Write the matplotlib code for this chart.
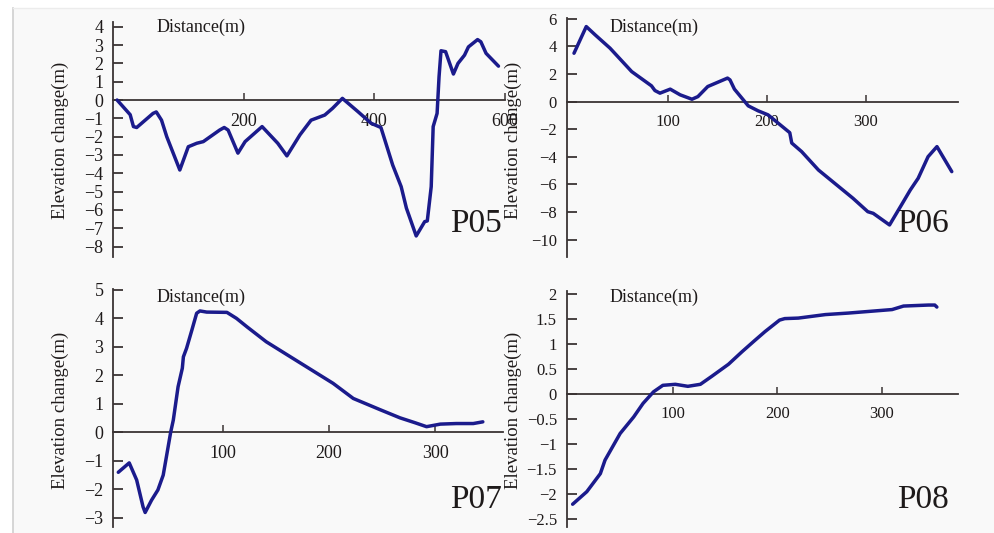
import matplotlib.pyplot as plt
from matplotlib.patches import Rectangle
from matplotlib.lines import Line2D

plt.rcParams['font.family'] = ['Liberation Serif', 'DejaVu Serif']

# profile data (distance m, elevation change m)
p05_x = [6, 26, 31, 36, 61, 66, 74, 82, 102, 115, 128, 138, 163, 170, 176, 191, 202, 228,
         252, 266, 286, 303, 324, 336, 351, 375, 395, 410, 428, 441, 449, 464, 477, 481,
         487, 490, 496, 499, 502, 509, 521, 528, 538, 544, 558, 563, 571, 590]
p05_y = [0, -0.8, -1.45, -1.5, -0.73, -0.65, -1.1, -2.0, -3.82, -2.55, -2.36, -2.27, -1.64,
         -1.5, -1.64, -2.9, -2.27, -1.45, -2.36, -3.05, -1.9, -1.1, -0.82, -0.45, 0.09,
         -0.64, -1.27, -1.5, -3.55, -4.73, -5.9, -7.42, -6.64, -6.6, -4.73, -1.45, -0.73,
         1.27, 2.69, 2.64, 1.42, 2.0, 2.45, 2.9, 3.3, 3.18, 2.55, 1.85]

p06_x = [4.6, 17, 26, 41, 63, 83, 86.5, 91.6, 102, 112, 124, 130, 140, 160, 162.5, 167,
         181, 191, 201, 223, 225, 235, 252, 287, 302, 307.5, 324, 336, 345, 353, 363, 372, 387]
p06_y = [3.5, 5.43, 4.83, 3.87, 2.17, 1.14, 0.8, 0.61, 0.9, 0.49, 0.17, 0.36, 1.09, 1.7,
         1.57, 0.9, -0.31, -0.67, -0.96, -2.25, -3.0, -3.62, -4.95, -7.0, -7.97, -8.09,
         -8.93, -7.49, -6.4, -5.55, -3.99, -3.26, -5.07]

p07_x = [1.7, 12, 19, 25, 27, 33, 39, 44, 47, 51, 53.5, 58, 62, 63, 66, 71, 75.5, 78.6,
         85, 104, 113, 123, 141, 166, 204, 223, 248, 267, 281, 292, 305, 320, 336, 345]
p07_y = [-1.4, -1.07, -1.67, -2.61, -2.81, -2.38, -2.02, -1.5, -0.86, 0, 0.43, 1.6, 2.25,
         2.65, 2.95, 3.59, 4.18, 4.26, 4.22, 4.21, 4.0, 3.7, 3.18, 2.6, 1.72, 1.19, 0.8,
         0.51, 0.34, 0.2, 0.29, 0.31, 0.31, 0.37]

p08_x = [3.4, 17, 30, 34.5, 49, 62, 71, 81, 90, 102, 114, 126, 137, 153, 166, 178, 188,
         202, 207, 220, 246, 268, 310, 321, 345, 351, 353]
p08_y = [-2.2, -1.95, -1.59, -1.32, -0.79, -0.46, -0.19, 0.04, 0.17, 0.19, 0.15, 0.19,
         0.35, 0.59, 0.84, 1.06, 1.24, 1.47, 1.5, 1.51, 1.58, 1.61, 1.68, 1.75, 1.77,
         1.77, 1.73]

names = ['P05', 'P06', 'P07', 'P08']
xs = [p05_x, p06_x, p07_x, p08_x]
ys = [p05_y, p06_y, p07_y, p08_y]
xticks = [[200, 400, 600], [100, 200, 300], [100, 200, 300], [100, 200, 300]]
yticks = [list(range(-8, 5)), list(range(-10, 7, 2)), list(range(-3, 6)),
          [-2.5, -2, -1.5, -1, -0.5, 0, 0.5, 1, 1.5, 2]]

W, H = 995, 533
# left, right, top, bottom in pixels; then limits
boxes = [(113.2, 505, 22, 257), (566.7, 957.7, 18, 257),
         (113.3, 503, 289, 527.3), (566.7, 957.7, 291, 527.3)]
xlims = [(0, 600), (-2.8, 393), (-3, 364), (-2.3, 373)]
ylims = [(-8.57, 4.26), (-11.25, 6.05), (-3.33, 5.03), (-2.66, 2.05)]
tick_fs = [13, 12, 13, 12]

line_col = '#1b1b8c'
axis_col = '#3b3434'
text_col = '#1e1a1a'

fig = plt.figure(figsize=(W / 100, H / 100), dpi=100)
fig.patch.set_facecolor('white')

# light grey panel behind the plots
fig.patches.append(Rectangle((13 / W, 0), 1, 1 - 8 / H, transform=fig.transFigure,
                             facecolor='#f9f9f9', edgecolor='none', zorder=-5))
fig.lines.append(Line2D([13 / W, 13 / W], [0, 1 - 8 / H], transform=fig.transFigure,
                        color='#cfcfcf', lw=1.2))
fig.lines.append(Line2D([13 / W, 1], [1 - 8 / H, 1 - 8 / H], transform=fig.transFigure,
                        color='#ececec', lw=1))

for i in range(4):
    l, r, t, b = boxes[i]
    ax = fig.add_axes([l / W, 1 - b / H, (r - l) / W, (b - t) / H])
    ax.patch.set_alpha(0)
    ax.plot(xs[i], ys[i], color=line_col, lw=2.5, solid_joinstyle='round',
            solid_capstyle='round', zorder=3)
    ax.set_xlim(*xlims[i])
    ax.set_ylim(*ylims[i])
    ax.spines['top'].set_visible(False)
    ax.spines['right'].set_visible(False)
    ax.spines['bottom'].set_position(('data', 0))
    for s in ['left', 'bottom']:
        ax.spines[s].set_color(axis_col)
        ax.spines[s].set_linewidth(1.3)
    ax.set_xticks(xticks[i])
    ax.set_yticks(yticks[i])
    ax.set_yticklabels(['%g' % v if v >= 0 else '\u2212%g' % -v for v in yticks[i]])
    ax.tick_params(axis='y', direction='in', length=7, width=1.3, color=axis_col,
                   pad=7, labelsize=tick_fs[i], labelcolor=text_col)
    ax.tick_params(axis='x', direction='in', length=5, width=1.1, color=axis_col,
                   pad=9, labelsize=tick_fs[i], labelcolor=text_col)

    # texts placed in pixel terms
    tx = 157 if i % 2 == 0 else 610
    ty = 32.3 if i < 2 else 302.3
    fig.text(tx / W, 1 - ty / H, 'Distance(m)', fontsize=13, color=text_col,
             ha='left', va='baseline')
    lx = 60 if i % 2 == 0 else 513
    ly = 140 if i < 2 else 410
    fig.text(lx / W, 1 - ly / H, 'Elevation change(m)', fontsize=13.5, color=text_col,
             rotation=90, ha='center', va='center')
    px = 450 if i % 2 == 0 else 896.7
    py = 231.7 if i < 2 else 508.3
    fig.text(px / W, 1 - py / H, names[i], fontsize=24, color=text_col,
             ha='left', va='baseline')

fig.savefig('out.png', dpi=100)
